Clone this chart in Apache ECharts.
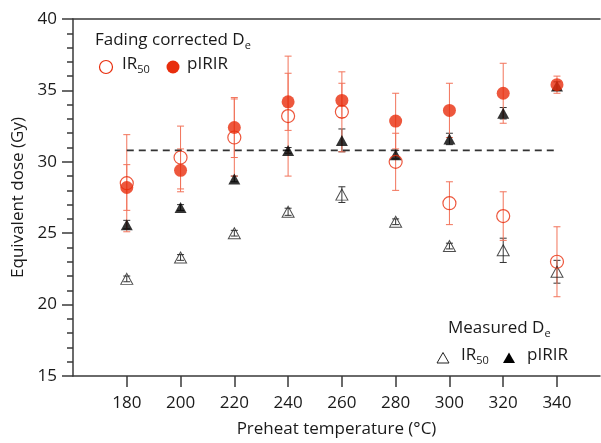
<!DOCTYPE html>
<html>
<head>
<meta charset="utf-8">
<script src="https://cdn.jsdelivr.net/npm/echarts@6/dist/echarts.min.js"></script>
<style>
  html, body { margin: 0; padding: 0; background: #fff; }
  #chart { width: 601px; height: 443px; }
</style>
</head>
<body>
<div id="chart"></div>
<script>
// preheat temperatures (°C)
const temps = [180, 200, 220, 240, 260, 280, 300, 320, 340];

// fading corrected De (Gy) and 1-sigma errors
const corrIR50 = [28.5, 30.3, 31.7, 33.2, 33.5, 30.0, 27.1, 26.2, 23.0];
const corrIR50Err = [3.4, 2.2, 2.7, 4.2, 2.8, 2.0, 1.5, 1.7, 2.45];
const corrPIRIR = [28.2, 29.4, 32.4, 34.2, 34.3, 32.85, 33.6, 34.8, 35.4];
const corrPIRIRErr = [1.6, 1.5, 2.1, 2.0, 1.2, 1.95, 1.9, 2.1, 0.6];

// measured De (Gy)
const measIR50 = [21.8, 23.3, 25.0, 26.5, 27.7, 25.8, 24.1, 23.8, 22.3];
const measIR50Err = [0.2, 0.2, 0.2, 0.25, 0.55, 0.2, 0.2, 0.85, 0.8];
const measPIRIR = [25.6, 26.8, 28.8, 30.8, 31.5, 30.5, 31.6, 33.4, 35.3];
const measPIRIRErr = [0.3, 0.2, 0.2, 0.2, 0.8, 0.3, 0.4, 0.4, 0.3];

// reference dose line
const refDose = 30.8;
const refSpan = [180, 340];

const xTicks = [180, 200, 220, 240, 260, 280, 300, 320, 340];

const RED = '#e82d0c';
const RED_BAR = '#f2735a';
const FONT = 'Open Sans';
const INK = '#1a1a1a';

const pts = (vals) => temps.map((t, i) => [t, vals[i]]);
const bars = (vals, errs) => temps.map((t, i) => [t, vals[i] - errs[i], vals[i] + errs[i]]);

function errorBar(color) {
  return function (params, api) {
    const x = api.value(0);
    const lo = api.coord([x, api.value(1)]);
    const hi = api.coord([x, api.value(2)]);
    const w = 3.5;
    const st = { stroke: color, lineWidth: 1 };
    return {
      type: 'group',
      children: [
        { type: 'line', shape: { x1: lo[0], y1: lo[1], x2: hi[0], y2: hi[1] }, style: st },
        { type: 'line', shape: { x1: lo[0] - w, y1: lo[1], x2: lo[0] + w, y2: lo[1] }, style: st },
        { type: 'line', shape: { x1: hi[0] - w, y1: hi[1], x2: hi[0] + w, y2: hi[1] }, style: st }
      ]
    };
  };
}

function errSeries(vals, errs, color) {
  return {
    type: 'custom',
    renderItem: errorBar(color),
    data: bars(vals, errs),
    encode: { x: 0, y: [1, 2] },
    silent: true,
    z: 1
  };
}

const sub = {
  a: { fontSize: 17, fontFamily: FONT, fill: INK, lineHeight: 22 },
  s: { fontSize: 11, fontFamily: FONT, fill: INK, lineHeight: 14, verticalAlign: 'bottom' }
};

const chart = echarts.init(document.getElementById('chart'), null, { renderer: 'canvas' });

const axisLineStyle = { color: '#3a3a3a', width: 1.5 };

chart.setOption({
  animation: false,
  textStyle: { fontFamily: FONT },
  grid: { left: 73, top: 19, right: 1, bottom: 66 },
  xAxis: [{
    type: 'value',
    min: 160,
    max: 356,
    interval: 20,
    name: 'Preheat temperature (°C)',
    nameLocation: 'middle',
    nameGap: 45,
    nameTextStyle: { fontSize: 17, color: INK, fontFamily: FONT },
    axisLine: { lineStyle: axisLineStyle },
    axisTick: { inside: false, length: 11, lineStyle: axisLineStyle, customValues: xTicks },
    axisLabel: { fontSize: 17, color: INK, margin: 19, customValues: xTicks },
    splitLine: { show: false }
  }, {
    type: 'value',
    position: 'top',
    min: 160,
    max: 356,
    axisLine: { show: true, lineStyle: axisLineStyle },
    axisTick: { show: false },
    axisLabel: { show: false },
    splitLine: { show: false }
  }],
  yAxis: {
    type: 'value',
    min: 15,
    max: 40,
    interval: 5,
    name: 'Equivalent dose (Gy)',
    nameLocation: 'middle',
    nameGap: 42,
    nameTextStyle: { fontSize: 17, color: INK, fontFamily: FONT },
    axisLine: { show: true, lineStyle: axisLineStyle },
    axisTick: { show: true, inside: false, length: 11, lineStyle: axisLineStyle },
    minorTick: { show: true, splitNumber: 5, length: 6, lineStyle: axisLineStyle },
    axisLabel: { fontSize: 17, color: INK, margin: 16 },
    splitLine: { show: false }
  },
  series: [
    errSeries(measIR50, measIR50Err, '#333'),
    errSeries(measPIRIR, measPIRIRErr, '#333'),
    errSeries(corrIR50, corrIR50Err, RED_BAR),
    errSeries(corrPIRIR, corrPIRIRErr, RED_BAR),
    {
      type: 'line',
      data: refSpan.map((t) => [t, refDose]),
      symbol: 'none',
      lineStyle: { color: '#333', width: 1.6, type: [7, 5] },
      silent: true,
      z: 2
    },
    {
      name: 'Measured IR50',
      type: 'scatter',
      data: pts(measIR50),
      symbol: 'triangle',
      symbolSize: [12, 11],
      itemStyle: { color: 'rgba(255,255,255,0)', borderColor: '#222', borderWidth: 1 },
      z: 3
    },
    {
      name: 'Measured pIRIR',
      type: 'scatter',
      data: pts(measPIRIR),
      symbol: 'triangle',
      symbolSize: [12, 11],
      itemStyle: { color: '#000' },
      z: 3
    },
    {
      name: 'Corrected IR50',
      type: 'scatter',
      data: pts(corrIR50),
      symbol: 'circle',
      symbolSize: 13,
      itemStyle: { color: 'rgba(255,255,255,0)', borderColor: RED, borderWidth: 1.2 },
      z: 4
    },
    {
      name: 'Corrected pIRIR',
      type: 'scatter',
      data: pts(corrPIRIR),
      symbol: 'circle',
      symbolSize: 13,
      itemStyle: { color: RED },
      z: 4
    }
  ],
  graphic: [
    // fading corrected legend
    { type: 'text', left: 95, top: 32, style: { text: '{a|Fading corrected D}{s|e}', rich: sub } },
    { type: 'circle', shape: { cx: 106, cy: 67, r: 6.5 }, style: { fill: 'none', stroke: RED, lineWidth: 1.2 } },
    { type: 'text', left: 122, top: 56, style: { text: '{a|IR}{s|50}', rich: sub } },
    { type: 'circle', shape: { cx: 173, cy: 67, r: 6.5 }, style: { fill: RED } },
    { type: 'text', left: 187, top: 56, style: { text: 'pIRIR', fontSize: 17, fontFamily: FONT, fill: INK } },
    // measured legend
    { type: 'text', left: 448, top: 320, style: { text: '{a|Measured D}{s|e}', rich: sub } },
    { type: 'polygon', shape: { points: [[443, 352.5], [449, 363], [437, 363]] }, style: { fill: 'none', stroke: '#222', lineWidth: 1 } },
    { type: 'text', left: 461, top: 347, style: { text: '{a|IR}{s|50}', rich: sub } },
    { type: 'polygon', shape: { points: [[509, 352.5], [515, 363], [503, 363]] }, style: { fill: '#000' } },
    { type: 'text', left: 527, top: 347, style: { text: 'pIRIR', fontSize: 17, fontFamily: FONT, fill: INK } }
  ]
});
</script>
</body>
</html>
